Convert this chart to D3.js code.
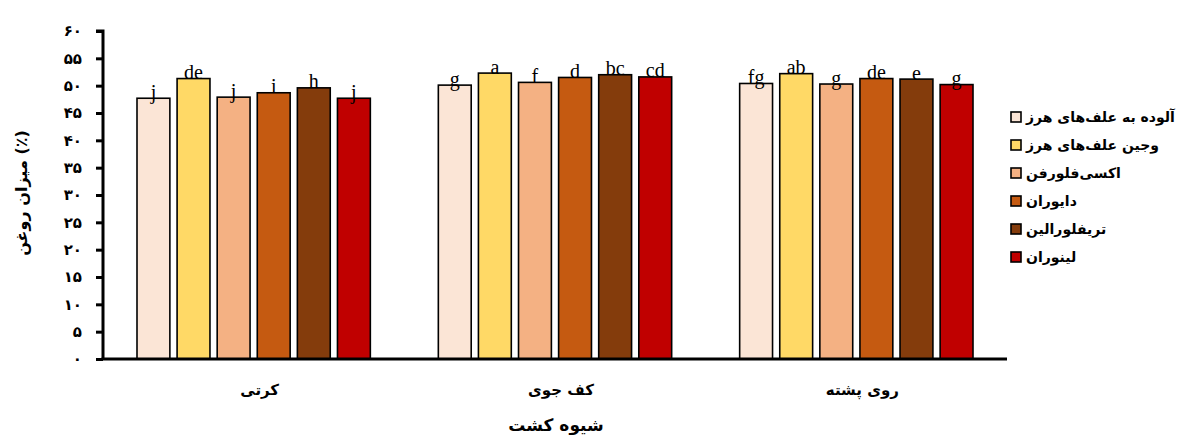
<!DOCTYPE html>
<html><head><meta charset="utf-8">
<script src="https://cdn.jsdelivr.net/npm/d3@7"></script>
<style>body{margin:0;background:#fff}svg{display:block}</style>
</head><body>
<svg id="c" width="1179" height="437"></svg>
<script>
const categories = ["کرتی", "کف جوی", "روی پشته"];
const seriesNames = ["آلوده به علف‌های هرز", "وجین علف‌های هرز", "اکسی‌فلورفن", "دایوران", "تریفلورالین", "لینوران"];
const seriesColors = ["#FBE5D6", "#FFD966", "#F4B183", "#C55A11", "#843C0C", "#C00000"];
// values[category][series]
const valuesKorti = [47.7, 51.3, 47.9, 48.7, 49.6, 47.7];
const valuesKafJoy = [50.1, 52.3, 50.6, 51.5, 52.0, 51.6];
const valuesRooyPoshte = [50.4, 52.2, 50.3, 51.3, 51.2, 50.2];
const lettersKorti = ["j", "de", "j", "i", "h", "j"];
const lettersKafJoy = ["g", "a", "f", "d", "bc", "cd"];
const lettersRooyPoshte = ["fg", "ab", "g", "de", "e", "g"];
const yTickValues = [0, 5, 10, 15, 20, 25, 30, 35, 40, 45, 50, 55, 60];
const yTickLabels = ["۰", "۵", "۱۰", "۱۵", "۲۰", "۲۵", "۳۰", "۳۵", "۴۰", "۴۵", "۵۰", "۵۵", "۶۰"];
const yTitle = "میزان روغن (٪)";
const xTitle = "شیوه کشت";

const values = [valuesKorti, valuesKafJoy, valuesRooyPoshte];
const letters = [lettersKorti, lettersKafJoy, lettersRooyPoshte];

const svg = d3.select("#c");
const mLeft = 103, mRight = 1007, mTop = 31, mBottom = 359;
const fa = "'DejaVu Sans', sans-serif";

const x0 = d3.scaleBand().domain(categories).range([mLeft, mRight]).paddingInner(0).paddingOuter(0);
const x1 = d3.scaleBand().domain(d3.range(seriesNames.length)).range([34, x0.bandwidth() - 34]).paddingInner(0.18).paddingOuter(0);
const y = d3.scaleLinear().domain([0, 60]).range([mBottom, mTop]);

// bars
categories.forEach((cat, ci) => {
  const g = svg.append("g").attr("transform", `translate(${x0(cat)},0)`);
  g.selectAll("rect").data(values[ci]).join("rect")
    .attr("x", (d, i) => x1(i))
    .attr("y", d => y(d))
    .attr("width", x1.bandwidth())
    .attr("height", d => y(0) - y(d))
    .attr("fill", (d, i) => seriesColors[i])
    .attr("stroke", "#000")
    .attr("stroke-width", 1.6);
  g.selectAll("text.lt").data(values[ci]).join("text")
    .attr("class", "lt")
    .attr("x", (d, i) => x1(i) + x1.bandwidth() / 2)
    .attr("y", d => y(d) + 0.5)
    .attr("text-anchor", "middle")
    .attr("font-family", "'Liberation Serif', 'Times New Roman', serif")
    .attr("font-size", 20)
    .attr("fill", "#000")
    .text((d, i) => letters[ci][i]);
});

// y axis
const yAxis = d3.axisLeft(y).tickValues(yTickValues).tickSize(7).tickFormat((d, i) => yTickLabels[i]);
const ya = svg.append("g").attr("transform", `translate(${mLeft},0)`).call(yAxis);
ya.select(".domain").attr("stroke", "#000").attr("stroke-width", 3).attr("d", `M-7,${mTop}H0V${mBottom}`);
ya.selectAll(".tick line").attr("stroke", "#000").attr("stroke-width", 3);
ya.selectAll(".tick text").attr("x", -21).attr("font-family", fa).attr("font-weight", "bold").attr("font-size", 15).attr("fill", "#000");

// x axis
const xAxis = d3.axisBottom(x0).tickSize(0).tickPadding(25);
const xa = svg.append("g").attr("transform", `translate(0,${mBottom})`).call(xAxis);
xa.select(".domain").attr("stroke", "#000").attr("stroke-width", 3).attr("d", `M${mLeft - 1.5},0H${mRight}`);
xa.selectAll(".tick text").attr("dx", 6).attr("font-family", fa).attr("font-weight", "bold").attr("font-size", 15).attr("fill", "#000");

// titles
svg.append("text").attr("transform", `translate(27,193) rotate(-90)`)
  .attr("text-anchor", "middle").attr("font-family", fa).attr("font-weight", "bold").attr("font-size", 16)
  .text(yTitle);
svg.append("text").attr("x", 556).attr("y", 431)
  .attr("text-anchor", "middle").attr("font-family", fa).attr("font-weight", "bold").attr("font-size", 17)
  .text(xTitle);

// legend
const lg = svg.append("g").attr("transform", "translate(1011,112)");
seriesNames.forEach((name, i) => {
  const row = lg.append("g").attr("transform", `translate(0,${i * 28})`);
  row.append("rect").attr("width", 10).attr("height", 10).attr("fill", seriesColors[i]).attr("stroke", "#000").attr("stroke-width", 1.6);
  row.append("text").attr("x", 15).attr("y", 10).attr("font-family", fa).attr("font-weight", "bold").attr("font-size", 14).attr("fill", "#000").text(name);
});
</script>
</body></html>
